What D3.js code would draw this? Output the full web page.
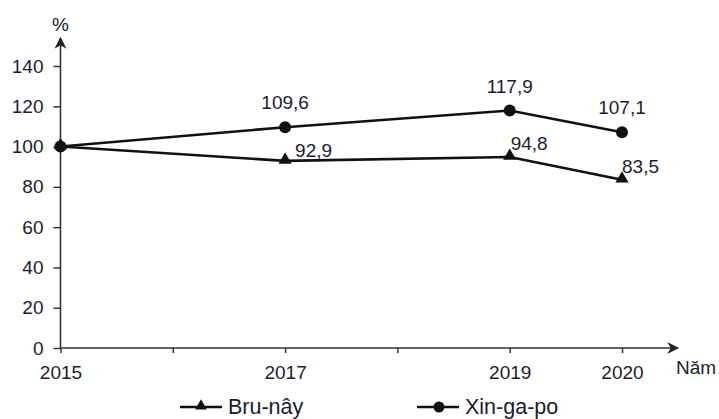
<!DOCTYPE html>
<html>
<head>
<meta charset="utf-8">
<script src="https://cdn.jsdelivr.net/npm/d3@7"></script>
<style>
  html, body { margin: 0; padding: 0; background: #fff; }
  svg { display: block; font-family: Arial, "Liberation Sans", sans-serif; }
</style>
</head>
<body>
<svg id="chart" width="719" height="419"></svg>
<script>
// Years on the horizontal axis (ticks every year, labels only on data years)
const years = [2015, 2017, 2019, 2020];
const tickYears = [2015, 2016, 2017, 2018, 2019, 2020];
// Growth index, 2015 = 100 (%)
const bruneiValues = [100, 92.9, 94.8, 83.5];
const singaporeValues = [100, 109.6, 117.9, 107.1];
const bruneiLabels = ["", "92,9", "94,8", "83,5"];
const singaporeLabels = ["", "109,6", "117,9", "107,1"];
const yTicks = [0, 20, 40, 60, 80, 100, 120, 140];
const seriesNames = ["Bru-nây", "Xin-ga-po"];

// Label placement relative to each point
const bruneiLabelDx = [0, 10, 1, 0];
const bruneiLabelDy = [0, -4, -7, -7];

const svg = d3.select("#chart");
const ink = "#111";
const textInk = "#1c1c2e";
const fontSize = 19;

const x = d3.scaleLinear().domain([2015, 2020]).range([60.5, 622]);
const y = d3.scaleLinear().domain([0, 140]).range([348, 66]);

// Arrow marker for the axis ends
const defs = svg.append("defs");
defs.append("marker")
  .attr("id", "arrow")
  .attr("viewBox", "0 0 10 10")
  .attr("refX", 9).attr("refY", 5)
  .attr("markerWidth", 12).attr("markerHeight", 12)
  .attr("markerUnits", "userSpaceOnUse")
  .attr("orient", "auto")
  .append("path")
  .attr("d", "M0,0 L10,5 L0,10 L3,5 Z")
  .attr("fill", "#222");

// Y axis
const yAxis = d3.axisLeft(y).tickValues(yTicks).tickSize(7).tickPadding(10).tickFormat(d3.format("d"));
const gy = svg.append("g").attr("transform", `translate(${x(2015)},0)`).call(yAxis);
gy.select(".domain").remove();
gy.selectAll(".tick line").attr("stroke", "#333").attr("stroke-width", 1.5);
gy.selectAll(".tick text").attr("fill", textInk).attr("font-size", fontSize).attr("font-family", "Arial, 'Liberation Sans', sans-serif");
svg.append("line")
  .attr("x1", x(2015)).attr("x2", x(2015))
  .attr("y1", y(0)).attr("y2", 38)
  .attr("stroke", "#333").attr("stroke-width", 1.6)
  .attr("marker-end", "url(#arrow)");
svg.append("text").attr("x", x(2015)).attr("y", 31)
  .attr("text-anchor", "middle").attr("font-size", fontSize).attr("fill", textInk).text("%");

// X axis
const xAxis = d3.axisBottom(x).tickValues(tickYears).tickSize(5)
  .tickFormat(d => years.includes(d) ? String(d) : "").tickPadding(13);
const gx = svg.append("g").attr("transform", `translate(0,${y(0)})`).call(xAxis);
gx.select(".domain").remove();
gx.selectAll(".tick line").attr("stroke", "#333").attr("stroke-width", 1.5);
gx.selectAll(".tick text").attr("fill", textInk).attr("font-size", fontSize).attr("font-family", "Arial, 'Liberation Sans', sans-serif");
svg.append("line")
  .attr("x1", x(2015)).attr("x2", 678)
  .attr("y1", y(0)).attr("y2", y(0))
  .attr("stroke", "#333").attr("stroke-width", 1.6)
  .attr("marker-end", "url(#arrow)");
svg.append("text").attr("x", 676).attr("y", 374)
  .attr("font-size", fontSize).attr("fill", textInk).text("Năm");

// Lines
const line = d3.line().x((d, i) => x(years[i])).y(d => y(d));
svg.append("path").datum(bruneiValues).attr("d", line)
  .attr("fill", "none").attr("stroke", ink).attr("stroke-width", 2.6);
svg.append("path").datum(singaporeValues).attr("d", line)
  .attr("fill", "none").attr("stroke", ink).attr("stroke-width", 2.6);

// Markers
const tri = d3.symbol().type(d3.symbolTriangle).size(75);
svg.append("g").selectAll("path").data(bruneiValues).join("path")
  .attr("d", tri)
  .attr("transform", (d, i) => `translate(${x(years[i])},${y(d) - 1})`)
  .attr("fill", ink);
svg.append("g").selectAll("circle").data(singaporeValues).join("circle")
  .attr("cx", (d, i) => x(years[i])).attr("cy", d => y(d)).attr("r", 6)
  .attr("fill", ink);

// Value labels
svg.append("g").selectAll("text").data(singaporeValues).join("text")
  .attr("x", (d, i) => x(years[i]))
  .attr("y", d => y(d) - 18)
  .attr("text-anchor", "middle")
  .attr("font-size", fontSize).attr("fill", textInk)
  .text((d, i) => singaporeLabels[i]);
svg.append("g").selectAll("text").data(bruneiValues).join("text")
  .attr("x", (d, i) => x(years[i]) + bruneiLabelDx[i])
  .attr("y", (d, i) => y(d) + bruneiLabelDy[i])
  .attr("font-size", fontSize).attr("fill", textInk)
  .text((d, i) => bruneiLabels[i]);

// Legend
const legend = [
  { name: seriesNames[0], x: 180, marker: "tri" },
  { name: seriesNames[1], x: 417, marker: "circle" }
];
const lg = svg.append("g");
legend.forEach(l => {
  lg.append("line").attr("x1", l.x).attr("x2", l.x + 42).attr("y1", 407).attr("y2", 407)
    .attr("stroke", ink).attr("stroke-width", 2.6);
  if (l.marker === "tri") {
    lg.append("path").attr("d", d3.symbol().type(d3.symbolTriangle).size(60))
      .attr("transform", `translate(${l.x + 21},406)`).attr("fill", ink);
  } else {
    lg.append("circle").attr("cx", l.x + 22).attr("cy", 407).attr("r", 5.5).attr("fill", ink);
  }
  lg.append("text").attr("x", l.x + 48).attr("y", 414)
    .attr("font-size", 21.5).attr("fill", textInk).text(l.name);
});
</script>
</body>
</html>
